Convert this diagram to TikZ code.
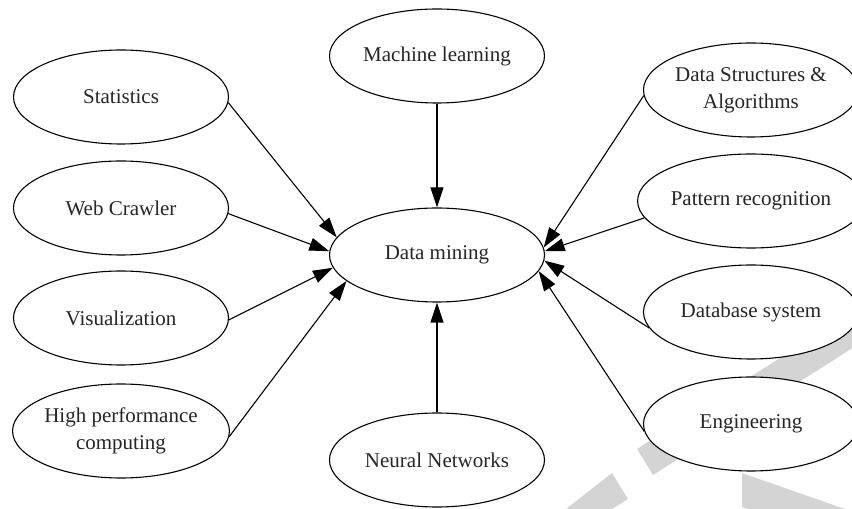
\documentclass[tikz,border=0pt]{standalone}
\usepackage{fontspec}
\setmainfont{Liberation Serif}
\usetikzlibrary{shapes.geometric,arrows.meta}

\tikzset{
  topic/.style={ellipse, draw, fill=white, line width=1.1pt, minimum width=215pt,
    minimum height=94pt, inner sep=0pt, align=center,
    font=\fontsize{21pt}{27pt}\selectfont, text=black!85},
  feed/.style={line width=1.1pt, -{Triangle[length=20pt,width=13pt]}},
  stamp/.style={fill=black!17, draw=none}
}

\begin{document}
\begin{tikzpicture}[x=1pt,y=1pt]
  \useasboundingbox (0,0) rectangle (852,509);

  % faint background stamp, lower right
  \fill[stamp] (637,60) -- (653,34) -- (862,167) -- (846,193) -- cycle;
  \fill[stamp] (612,36) -- (628,10) -- (612,0) -- (566,0) -- cycle;
  \fill[stamp] (742,36) -- (862,-6) -- (862,-40) -- (742,2) -- cycle;

  % central topic
  \node[topic] (dm)  at (437,254) {Data mining};

  % top and bottom
  \node[topic] (ml)  at (437,453) {Machine learning};
  \node[topic] (nn)  at (437,49)  {Neural Networks};

  % left column
  \node[topic] (st)  at (121,412) {Statistics};
  \node[topic] (wc)  at (121,301) {Web Crawler};
  \node[topic] (vi)  at (121,191) {Visualization};
  \node[topic] (hp)  at (121,78)  {High performance\\computing};

  % right column
  \node[topic] (ds)  at (751,419) {Data Structures \&\\Algorithms};
  \node[topic] (pr)  at (751,308) {Pattern recognition};
  \node[topic] (db)  at (751,197) {Database system};
  \node[topic] (en)  at (751,85)  {Engineering};

  % connectors into the central topic
  \draw[feed] (st.-3)   -- (dm.170.8);
  \draw[feed] (wc.-3)   -- (dm.178.4);
  \draw[feed] (vi.-1)   -- (dm.-173);
  \draw[feed] (hp.-3)   -- (dm.-164.4);
  \draw[feed] (ml.south) -- (dm.north);
  \draw[feed] (nn.north) -- (dm.south);
  \draw[feed] (ds.-177.3) -- (dm.4.3);
  \draw[feed] (pr.-171)   -- (dm.2.6);
  \draw[feed] (db.-171.4) -- (dm.-3.8);
  \draw[feed] (en.-176)   -- (dm.-9.2);
\end{tikzpicture}
\end{document}
